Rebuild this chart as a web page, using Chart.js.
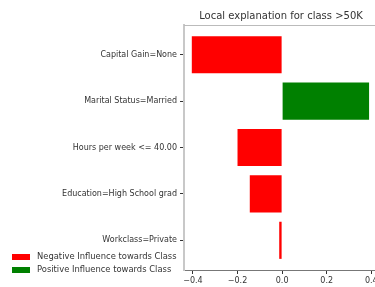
<!DOCTYPE html>
<html>
<head>
<meta charset="utf-8">
<script src="https://cdn.jsdelivr.net/npm/chart.js@4.4.0/dist/chart.umd.min.js"></script>
<style>
  html, body { margin: 0; padding: 0; background: #fff; overflow: hidden; }
  #wrap { width: 390px; height: 287px; position: relative; }
</style>
</head>
<body>
<div id="wrap"><canvas id="chart"></canvas></div>
<script>
// feature names, top to bottom
var features = ['Capital Gain=None', 'Marital Status=Married', 'Hours per week <= 40.00',
                'Education=High School grad', 'Workclass=Private'];
// LIME weights
var weights = [-0.405, 0.39, -0.20, -0.145, -0.013];
var xTicks = [-0.4, -0.2, 0.0, 0.2, 0.4];
var chartTitle = 'Local explanation for class >50K';
var legendLabels = ['Negative Influence towards Class', 'Positive Influence towards Class'];

var font = 'DejaVu Sans';
var textColor = '#333';

var negData = [], posData = [];
weights.forEach(function(w, i) {
  negData.push({ x: w < 0 ? w : null, y: i });
  posData.push({ x: w > 0 ? w : null, y: i });
});

// title, top spine and legend drawn by hand (matplotlib style)
var extras = {
  id: 'extras',
  afterDraw: function(chart) {
    var ctx = chart.ctx, a = chart.chartArea;
    ctx.save();
    ctx.strokeStyle = '#bbb';
    ctx.lineWidth = 1;
    ctx.beginPath();
    ctx.moveTo(a.left, a.top + 0.5);
    ctx.lineTo(a.right, a.top + 0.5);
    ctx.stroke();

    ctx.fillStyle = textColor;
    ctx.font = '10px "' + font + '"';
    ctx.textAlign = 'center';
    ctx.textBaseline = 'middle';
    ctx.fillText(chartTitle, (a.left + a.right) / 2, 16);

    ctx.font = '8.4px "' + font + '"';
    ctx.textAlign = 'left';
    chart.data.datasets.forEach(function(ds, i) {
      var y = 257 + i * 13;
      ctx.fillStyle = ds.backgroundColor;
      ctx.fillRect(12, y - 3, 18, 6);
      ctx.fillStyle = textColor;
      ctx.fillText(ds.label, 37, y);
    });
    ctx.restore();
  }
};

var ctx = document.getElementById('chart').getContext('2d');
new Chart(ctx, {
  type: 'bar',
  data: {
    datasets: [
      { label: legendLabels[0], data: negData, backgroundColor: '#ff0000', grouped: false },
      { label: legendLabels[1], data: posData, backgroundColor: '#008000', grouped: false }
    ]
  },
  options: {
    indexAxis: 'y',
    responsive: true,
    maintainAspectRatio: false,
    animation: false,
    barPercentage: 0.8,
    categoryPercentage: 1.0,
    layout: { padding: { left: 0, top: 25, right: 12, bottom: 0 } },
    plugins: {
      legend: { display: false },
      tooltip: { enabled: false }
    },
    scales: {
      x: {
        type: 'linear',
        min: -0.44,
        max: 0.43,
        afterBuildTicks: function(scale) {
          scale.ticks = xTicks.map(function(v) { return { value: v }; });
        },
        afterFit: function(scale) { scale.height = 17; },
        grid: { drawOnChartArea: false, tickLength: 4, tickColor: '#333' },
        border: { color: '#777', width: 1 },
        ticks: {
          color: textColor,
          padding: 2,
          maxRotation: 0,
          font: { family: font, size: 8 },
          callback: function(v) { return v.toFixed(1).replace('-', '\u2212'); }
        }
      },
      y: {
        type: 'linear',
        reverse: true,
        offset: false,
        min: -0.64,
        max: 4.64,
        afterBuildTicks: function(scale) {
          scale.ticks = features.map(function(f, i) { return { value: i }; });
        },
        afterFit: function(scale) { scale.width = 184; },
        grid: { drawOnChartArea: false, offset: false, tickLength: 4, tickColor: '#333' },
        border: { color: '#c8c8c8', width: 2 },
        ticks: {
          color: textColor,
          padding: 3,
          font: { family: font, size: 8 },
          callback: function(v) { return features[v]; }
        }
      }
    }
  },
  plugins: [extras]
});
</script>
</body>
</html>
